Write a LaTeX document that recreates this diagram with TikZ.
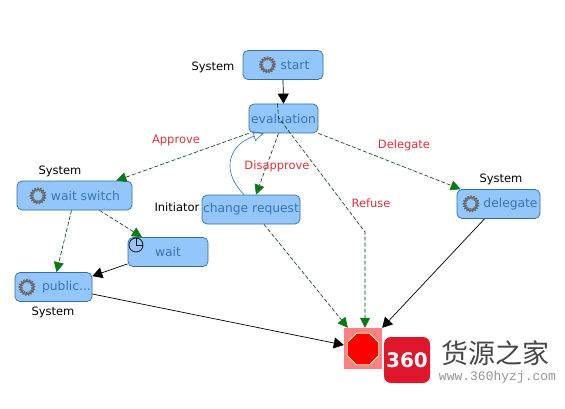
\documentclass[tikz,border=0pt]{standalone}
\usepackage{fontspec}
\setmainfont{DejaVu Sans}
\newfontfamily\cjk{Noto Sans CJK SC}
\newfontfamily\urlfont{Liberation Mono}
\usetikzlibrary{arrows.meta,shapes.geometric}
\definecolor{taskblue}{HTML}{93C6FB}
\definecolor{taskline}{HTML}{2F6FA8}
\definecolor{tasktext}{HTML}{3A74B8}
\definecolor{flowgreen}{HTML}{0A7A14}
\definecolor{labelred}{HTML}{E0303A}
\definecolor{logored}{HTML}{E0162B}
\tikzset{
  task/.style={draw=taskline,fill=taskblue,rounded corners=5pt,line width=0.7pt,text=tasktext,
    inner sep=0pt,font=\fontsize{12.3}{14}\selectfont,minimum height=29pt},
  gearicon/.style={circle,draw=black!58,line width=1.6pt,minimum size=13pt,inner sep=0pt,
    postaction={draw,line width=4pt,dash pattern=on 1.2pt off 1.2pt}},
  role/.style={font=\fontsize{11.5}{13}\selectfont,inner sep=0pt},
  cond/.style={font=\fontsize{11.5}{13}\selectfont,text=labelred,inner sep=0pt},
  flow/.style={draw=flowgreen!45!black,line width=0.6pt,dash pattern=on 4pt off 2pt,
    -{Triangle[length=10pt,width=10pt,fill=flowgreen,color=flowgreen]}},
  plain/.style={line width=0.7pt,-{Triangle[length=10pt,width=11pt]}}
}
\begin{document}
\begin{tikzpicture}[x=1pt,y=-1pt]
  \useasboundingbox (0,0) rectangle (565,409);
  % nodes
  \node[task,minimum width=80pt] (start) at (283,65) {\hspace*{24pt}start};
  \node[task,minimum width=69pt] (evaluation) at (283.5,118.5) {evaluation};
  \node[task,minimum width=115pt] (waitswitch) at (74.5,195.5) {\hspace*{22pt}wait switch};
  \node[task,minimum width=80pt] (wait) at (168,252) {wait};
  \node[task,minimum width=77pt] (public) at (53.5,287) {\hspace*{26pt}public...};
  \node[task,minimum width=98pt] (changerequest) at (251,209.5) {change request};
  \node[task,minimum width=83pt] (delegate) at (498.5,204) {\hspace*{24pt}delegate};
  \node[fill=red!50!white,draw=none,minimum width=38pt,minimum height=41pt,inner sep=0pt] (stop) at (363,348.5) {};
  \node[regular polygon,regular polygon sides=8,fill=red,draw=yellow!30!white,line width=0.8pt,minimum size=34pt,inner sep=0pt] (octagon) at (363,349) {};

  % icons
  \node[gearicon] (gearstart) at (267.5,65) {};
  \node[gearicon] (gearswitch) at (38,196) {};
  \node[gearicon] (gearpublic) at (27,287.5) {};
  \node[gearicon] (geardelegate) at (471,204) {};

  % roles
  \node[role] (rolestart) at (213,67) {System};
  \node[role] (roleswitch) at (60,171) {System};
  \node[role] (rolepublic) at (53,312) {System};
  \node[role] (roledelegate) at (501,179) {System};
  \node[role] (rolerequest) at (177,207) {Initiator};

  % transitions
  \coordinate (refusebend) at (365,232);
  \draw[plain] (start.south) -- (evaluation.north);
  \draw[flow] (evaluation.south west) -- ([xshift=-16pt]waitswitch.north east);
  \draw[flow] ([xshift=-6pt]evaluation.north) -- ([xshift=-5pt,yshift=-14pt]evaluation.north) -- (refusebend) -- ([xshift=2pt]stop.north);
  \draw[flow] (evaluation.south east) -- ([xshift=4pt]delegate.north west);
  \draw[flow] ([xshift=-5pt]evaluation.south) -- ([xshift=5pt]changerequest.north);
  \draw[draw=taskline,line width=0.6pt,-{Triangle[open,length=10pt,width=10pt]}] ([xshift=-7pt]changerequest.north) .. controls (218,168) and (232,143) .. ([xshift=-20pt]evaluation.south);
  \draw[flow] ([xshift=13pt]changerequest.south) -- ([xshift=4pt]stop.north west);
  \draw[flow] ([xshift=-3pt]waitswitch.south) -- ([xshift=3pt]public.north);
  \draw[flow] ([xshift=25pt]waitswitch.south) -- ([xshift=-26pt]wait.north);
  \draw[plain] ([yshift=3pt]wait.south west) -- ([yshift=-4pt]public.north east);
  \draw[plain] ([yshift=-7pt]public.east) -- ([yshift=3.5pt]stop.west);
  \draw[plain] ([xshift=-14pt]delegate.south) -- (stop.north east);

  % clock
  \node[circle,draw=black,fill=taskblue,line width=0.7pt,minimum size=14pt,inner sep=0pt] (clock) at (136,245) {};
  \draw[line width=0.5pt] (clock.north) -- (clock.center) -- (clock.east);

  % conditions
  \node[cond] (approve) at (176,140.5) {Approve};
  \node[cond] (disapprove) at (277,166) {Disapprove};
  \node[cond] (refuse) at (371,203) {Refuse};
  \node[cond] (delegatelabel) at (404,145.5) {Delegate};

  % watermark
  \node[fill=logored,rounded corners=7pt,minimum size=46pt,inner sep=0pt,text=white,font=\fontsize{20}{22}\bfseries\selectfont] (logo) at (407,360) {360};
  \node[font=\cjk\fontsize{27}{29}\selectfont,text=black!72,inner sep=0pt] (brand) at (495.5,353) {货源之家};
  \node[font=\urlfont\fontsize{13}{15}\selectfont,text=black!42,inner sep=0pt] (site) at (497.5,377) {www.360hyzj.com};
\end{tikzpicture}
\end{document}
